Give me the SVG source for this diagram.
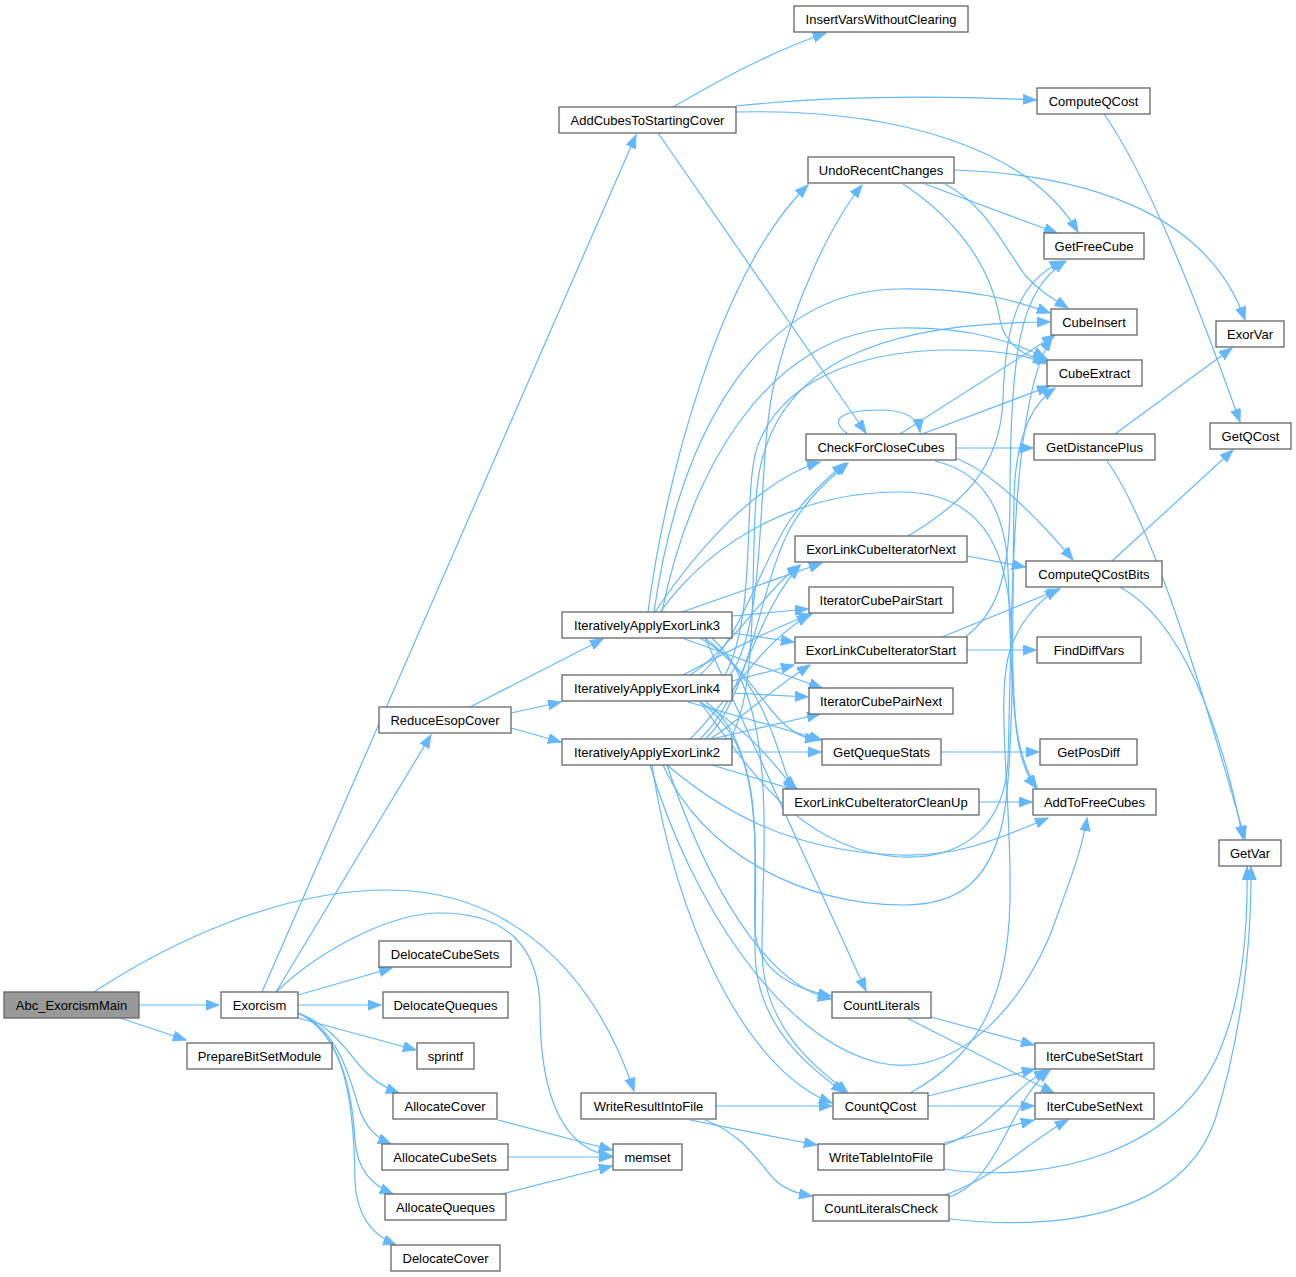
<svg xmlns="http://www.w3.org/2000/svg" width="1296" height="1277" viewBox="0 0 1296 1277">
<style>
.n rect{fill:#ffffff;stroke:#666666;stroke-width:1.3}
.n text{font-family:"Liberation Sans",Arial,sans-serif;font-size:13px;fill:#000000;text-anchor:middle}
.root rect{fill:#999999}
#edges path{fill:none;stroke:#63b8ff;stroke-width:1.2;marker-end:url(#ah)}
</style>
<defs>
<marker id="ah" markerUnits="userSpaceOnUse" markerWidth="15" markerHeight="12" refX="13" refY="5" orient="auto">
<path d="M0,0 L13,5 L0,10 z" fill="#63b8ff" stroke="#63b8ff" stroke-width="1"/>
</marker>
</defs>
<rect width="1296" height="1277" fill="#ffffff"/>
<g id="edges">
<path d="M139,1005 L219,1005"/>
<path d="M120,1018 L186,1040"/>
<path d="M94,992 C170,942 280,890 388,890 C500,890 590,960 634,1091"/>
<path d="M262,992 L636,135"/>
<path d="M276,992 L431,735"/>
<path d="M298,995 L392,968"/>
<path d="M298,1005 L381,1005"/>
<path d="M298,1018 L416,1050"/>
<path d="M298,1013 C330,1025 345,1048 360,1066 C372,1080 385,1088 399,1093"/>
<path d="M298,1013 C335,1028 348,1070 358,1105 C365,1128 377,1138 391,1144"/>
<path d="M298,1013 C340,1032 352,1090 355,1140 C357,1170 372,1185 393,1194"/>
<path d="M298,1013 C345,1035 354,1100 355,1180 C356,1215 372,1235 396,1245"/>
<path d="M276,992 C320,950 390,913 440,913 C510,913 540,950 540,1010 C540,1100 565,1150 612,1156"/>
<path d="M673,107 C720,80 770,52 826,33"/>
<path d="M736,106 C840,95 950,96 1036,100"/>
<path d="M736,112 C900,108 1030,150 1078,232"/>
<path d="M658,133 L866,433"/>
<path d="M1104,114 C1150,180 1200,310 1240,422"/>
<path d="M925,184 L1057,233"/>
<path d="M945,184 C985,205 1000,240 1025,275 C1040,292 1055,300 1068,308"/>
<path d="M903,184 C950,215 990,260 1000,320 C1005,345 1025,358 1050,361"/>
<path d="M954,170 C1100,175 1210,220 1245,320"/>
<path d="M848,434 C828,420 840,410 880,410 C905,410 918,417 920,432"/>
<path d="M900,434 L1055,335"/>
<path d="M922,434 L1050,386"/>
<path d="M956,448 L1033,448"/>
<path d="M955,458 C990,470 1040,520 1073,560"/>
<path d="M935,461 C975,470 1005,500 1008,570 C1012,680 1010,750 1037,788"/>
<path d="M1115,434 L1232,348"/>
<path d="M1107,461 C1150,520 1200,680 1245,839"/>
<path d="M1112,561 L1233,450"/>
<path d="M1120,587 C1180,620 1220,720 1243,839"/>
<path d="M967,556 L1025,567"/>
<path d="M908,536 C960,505 1000,470 1003,400 C1005,320 1020,280 1063,261"/>
<path d="M942,637 L1060,589"/>
<path d="M967,650 L1036,650"/>
<path d="M965,637 C995,615 1010,580 1010,500 C1010,350 1020,290 1066,261"/>
<path d="M941,752 L1039,752"/>
<path d="M979,802 L1032,802"/>
<path d="M931,1017 L1034,1045"/>
<path d="M907,1018 L1054,1093"/>
<path d="M928,1096 L1035,1069"/>
<path d="M928,1106 L1034,1106"/>
<path d="M910,1093 C970,1060 1008,1010 1010,900 C1012,800 995,700 1010,650 C1020,620 1040,600 1058,589"/>
<path d="M716,1106 L832,1106"/>
<path d="M690,1120 C730,1128 780,1138 817,1145"/>
<path d="M705,1120 C745,1135 760,1165 775,1180 C785,1190 800,1194 812,1196"/>
<path d="M944,1145 C990,1130 1010,1090 1047,1070"/>
<path d="M944,1143 L1034,1120"/>
<path d="M944,1169 C1050,1185 1180,1150 1220,1050 C1245,990 1248,920 1247,867"/>
<path d="M949,1197 C1000,1180 1010,1100 1050,1070"/>
<path d="M945,1195 C1000,1175 1030,1140 1068,1120"/>
<path d="M949,1219 C1050,1230 1180,1220 1215,1120 C1240,1040 1252,950 1251,867"/>
<path d="M498,1120 L612,1150"/>
<path d="M508,1157 L612,1157"/>
<path d="M502,1194 L612,1166"/>
<path d="M470,707 L603,639"/>
<path d="M511,713 L561,702"/>
<path d="M511,728 L561,742"/>
<path d="M648,612 C665,480 720,270 808,185"/>
<path d="M654,612 C680,430 760,290 900,289 C970,288 1015,300 1050,313"/>
<path d="M662,612 C690,470 770,330 900,328 C975,327 1015,343 1046,358"/>
<path d="M655,612 C700,545 760,480 820,462"/>
<path d="M682,612 L822,563"/>
<path d="M732,616 L808,609"/>
<path d="M732,633 L794,642"/>
<path d="M682,638 L822,688"/>
<path d="M700,638 C740,660 760,700 780,720 C795,735 805,738 818,740"/>
<path d="M705,638 C760,680 775,740 785,770 C788,780 792,785 797,789"/>
<path d="M660,612 C720,530 810,492 900,492 C990,492 1010,560 1012,640 C1014,720 1015,760 1036,788"/>
<path d="M705,638 L866,991"/>
<path d="M712,638 C780,700 762,850 762,950 C762,1030 820,1070 848,1093"/>
<path d="M730,675 C770,620 755,460 775,380 C795,300 830,225 862,185"/>
<path d="M725,675 C760,610 740,480 760,440 C790,370 880,350 950,350 C1000,350 1030,356 1046,364"/>
<path d="M700,675 C740,640 760,565 790,520 C808,495 828,478 845,463"/>
<path d="M690,675 C730,650 765,590 800,565"/>
<path d="M683,675 C720,655 780,625 812,614"/>
<path d="M732,681 L794,665"/>
<path d="M732,693 L808,697"/>
<path d="M688,702 L822,740"/>
<path d="M700,702 C750,730 770,760 795,789"/>
<path d="M700,702 C770,750 752,850 755,930 C758,975 800,990 831,996"/>
<path d="M706,702 C765,745 755,860 755,950 C755,1030 815,1070 844,1093"/>
<path d="M700,702 C750,770 800,850 900,857 C970,860 1005,820 1008,760 C1012,650 1008,400 1052,338"/>
<path d="M730,739 C765,680 745,520 762,460 C785,370 870,322 1050,322"/>
<path d="M705,739 C750,700 760,580 792,525 C808,498 828,480 848,463"/>
<path d="M700,739 C742,700 757,610 800,566"/>
<path d="M690,739 C730,700 762,640 810,615"/>
<path d="M710,739 C740,720 770,690 810,665"/>
<path d="M712,739 L820,714"/>
<path d="M732,752 L821,752"/>
<path d="M712,765 L798,791"/>
<path d="M667,765 C720,810 790,852 900,855 C960,857 1000,838 1048,818"/>
<path d="M663,765 C700,850 800,905 903,905 C960,905 990,880 1003,820 C1015,760 1012,600 1014,500 C1015,440 1030,405 1055,388"/>
<path d="M650,765 C690,900 780,1040 880,1063 C960,1080 1025,1000 1052,930 C1070,880 1082,850 1087,818"/>
<path d="M667,765 C705,880 765,985 831,999"/>
<path d="M652,765 C675,920 745,1070 832,1103"/>
</g>
<g id="Abc_ExorcismMain" class="n root"><rect x="4" y="992" width="135" height="26"/><text x="71.5" y="1009.5">Abc_ExorcismMain</text></g>
<g id="Exorcism" class="n"><rect x="221" y="992" width="77" height="26"/><text x="259.5" y="1009.5">Exorcism</text></g>
<g id="PrepareBitSetModule" class="n"><rect x="187" y="1043" width="145" height="26"/><text x="259.5" y="1060.5">PrepareBitSetModule</text></g>
<g id="AddCubesToStartingCover" class="n"><rect x="559" y="107" width="177" height="26"/><text x="647.5" y="124.5">AddCubesToStartingCover</text></g>
<g id="InsertVarsWithoutClearing" class="n"><rect x="794" y="6" width="174" height="26"/><text x="881" y="23.5">InsertVarsWithoutClearing</text></g>
<g id="ComputeQCost" class="n"><rect x="1037" y="88" width="113" height="26"/><text x="1093.5" y="105.5">ComputeQCost</text></g>
<g id="UndoRecentChanges" class="n"><rect x="808" y="157" width="146" height="26"/><text x="881" y="174.5">UndoRecentChanges</text></g>
<g id="GetFreeCube" class="n"><rect x="1044" y="233" width="100" height="26"/><text x="1094" y="250.5">GetFreeCube</text></g>
<g id="CubeInsert" class="n"><rect x="1051" y="309" width="86" height="26"/><text x="1094" y="326.5">CubeInsert</text></g>
<g id="CubeExtract" class="n"><rect x="1047" y="360" width="95" height="26"/><text x="1094.5" y="377.5">CubeExtract</text></g>
<g id="CheckForCloseCubes" class="n"><rect x="806" y="434" width="150" height="26"/><text x="881" y="451.5">CheckForCloseCubes</text></g>
<g id="GetDistancePlus" class="n"><rect x="1034" y="434" width="121" height="26"/><text x="1094.5" y="451.5">GetDistancePlus</text></g>
<g id="ExorVar" class="n"><rect x="1216" y="321" width="68" height="26"/><text x="1250" y="338.5">ExorVar</text></g>
<g id="GetQCost" class="n"><rect x="1210" y="423" width="81" height="26"/><text x="1250.5" y="440.5">GetQCost</text></g>
<g id="ExorLinkCubeIteratorNext" class="n"><rect x="795" y="536" width="172" height="26"/><text x="881" y="553.5">ExorLinkCubeIteratorNext</text></g>
<g id="ComputeQCostBits" class="n"><rect x="1026" y="561" width="136" height="26"/><text x="1094" y="578.5">ComputeQCostBits</text></g>
<g id="IteratorCubePairStart" class="n"><rect x="809" y="587" width="144" height="26"/><text x="881" y="604.5">IteratorCubePairStart</text></g>
<g id="IterativelyApplyExorLink3" class="n"><rect x="562" y="612" width="170" height="26"/><text x="647" y="629.5">IterativelyApplyExorLink3</text></g>
<g id="ExorLinkCubeIteratorStart" class="n"><rect x="795" y="637" width="172" height="26"/><text x="881" y="654.5">ExorLinkCubeIteratorStart</text></g>
<g id="FindDiffVars" class="n"><rect x="1037" y="637" width="104" height="26"/><text x="1089" y="654.5">FindDiffVars</text></g>
<g id="IterativelyApplyExorLink4" class="n"><rect x="562" y="675" width="170" height="26"/><text x="647" y="692.5">IterativelyApplyExorLink4</text></g>
<g id="IteratorCubePairNext" class="n"><rect x="809" y="688" width="144" height="26"/><text x="881" y="705.5">IteratorCubePairNext</text></g>
<g id="ReduceEsopCover" class="n"><rect x="379" y="707" width="132" height="26"/><text x="445" y="724.5">ReduceEsopCover</text></g>
<g id="IterativelyApplyExorLink2" class="n"><rect x="562" y="739" width="170" height="26"/><text x="647" y="756.5">IterativelyApplyExorLink2</text></g>
<g id="GetQuequeStats" class="n"><rect x="822" y="739" width="119" height="26"/><text x="881.5" y="756.5">GetQuequeStats</text></g>
<g id="GetPosDiff" class="n"><rect x="1040" y="739" width="97" height="26"/><text x="1088.5" y="756.5">GetPosDiff</text></g>
<g id="ExorLinkCubeIteratorCleanUp" class="n"><rect x="783" y="789" width="196" height="26"/><text x="881" y="806.5">ExorLinkCubeIteratorCleanUp</text></g>
<g id="AddToFreeCubes" class="n"><rect x="1033" y="789" width="123" height="26"/><text x="1094.5" y="806.5">AddToFreeCubes</text></g>
<g id="GetVar" class="n"><rect x="1219" y="840" width="62" height="26"/><text x="1250" y="857.5">GetVar</text></g>
<g id="DelocateCubeSets" class="n"><rect x="379" y="941" width="132" height="26"/><text x="445" y="958.5">DelocateCubeSets</text></g>
<g id="DelocateQueques" class="n"><rect x="383" y="992" width="125" height="26"/><text x="445.5" y="1009.5">DelocateQueques</text></g>
<g id="CountLiterals" class="n"><rect x="832" y="992" width="99" height="26"/><text x="881.5" y="1009.5">CountLiterals</text></g>
<g id="sprintf" class="n"><rect x="417" y="1043" width="57" height="26"/><text x="445.5" y="1060.5">sprintf</text></g>
<g id="IterCubeSetStart" class="n"><rect x="1035" y="1043" width="119" height="26"/><text x="1094.5" y="1060.5">IterCubeSetStart</text></g>
<g id="AllocateCover" class="n"><rect x="393" y="1093" width="104" height="26"/><text x="445" y="1110.5">AllocateCover</text></g>
<g id="WriteResultIntoFile" class="n"><rect x="581" y="1093" width="135" height="26"/><text x="648.5" y="1110.5">WriteResultIntoFile</text></g>
<g id="CountQCost" class="n"><rect x="833" y="1093" width="95" height="26"/><text x="880.5" y="1110.5">CountQCost</text></g>
<g id="IterCubeSetNext" class="n"><rect x="1035" y="1093" width="119" height="26"/><text x="1094.5" y="1110.5">IterCubeSetNext</text></g>
<g id="AllocateCubeSets" class="n"><rect x="382" y="1144" width="126" height="26"/><text x="445" y="1161.5">AllocateCubeSets</text></g>
<g id="memset" class="n"><rect x="613" y="1144" width="69" height="26"/><text x="647.5" y="1161.5">memset</text></g>
<g id="WriteTableIntoFile" class="n"><rect x="818" y="1144" width="126" height="26"/><text x="881" y="1161.5">WriteTableIntoFile</text></g>
<g id="AllocateQueques" class="n"><rect x="385" y="1194" width="121" height="26"/><text x="445.5" y="1211.5">AllocateQueques</text></g>
<g id="CountLiteralsCheck" class="n"><rect x="813" y="1195" width="136" height="26"/><text x="881" y="1212.5">CountLiteralsCheck</text></g>
<g id="DelocateCover" class="n"><rect x="391" y="1245" width="109" height="26"/><text x="445.5" y="1262.5">DelocateCover</text></g>
</svg>
